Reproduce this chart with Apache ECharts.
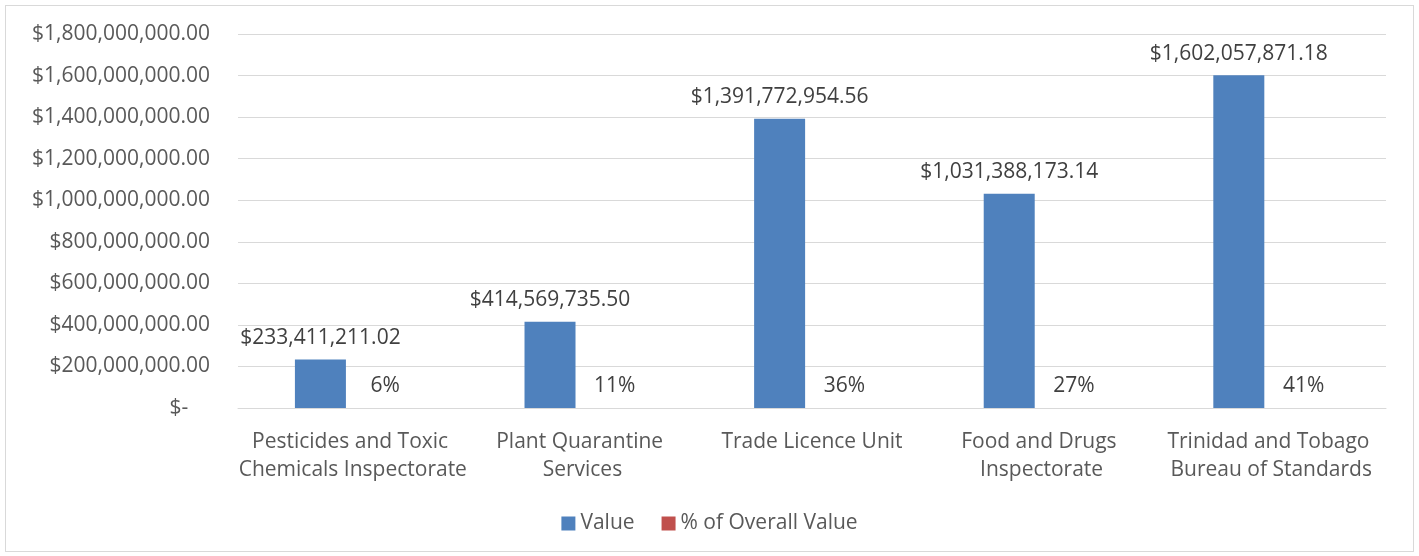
<!DOCTYPE html>
<html>
<head>
<meta charset="utf-8">
<script src="https://cdn.jsdelivr.net/npm/echarts@6/dist/echarts.min.js"></script>
<style>
  html, body { margin: 0; padding: 0; background: #fff; }
  #frame { position: absolute; left: 5px; top: 5px; width: 1407px; height: 545px; border: 1px solid #d9d9d9; }
  #main { position: absolute; left: 0; top: 0; width: 1419px; height: 556px; }
</style>
</head>
<body>
<div id="frame"></div>
<div id="main"></div>
<script>
// data
var categories = [
  'Pesticides and Toxic Chemicals Inspectorate',
  'Plant Quarantine Services',
  'Trade Licence Unit',
  'Food and Drugs Inspectorate',
  'Trinidad and Tobago Bureau of Standards'
];
var values = [233411211.02, 414569735.50, 1391772954.56, 1031388173.14, 1602057871.18];
var shares = [0.06, 0.11, 0.36, 0.27, 0.41];

var fontFam = '"Open Sans", "Liberation Sans", sans-serif';
var textColor = '#595959';
var fs = 21;

function money(v) {
  if (v === 0) return '$-    ';
  return '$' + v.toLocaleString('en-US', {minimumFractionDigits: 2, maximumFractionDigits: 2});
}

var myChart = echarts.init(document.getElementById('main'));

myChart.setOption({
  animation: false,
  textStyle: { fontFamily: fontFam },
  grid: { left: 238, right: 33, top: 34, bottom: 148 },
  legend: {
    bottom: 17,
    left: 'center',
    icon: 'rect',
    itemWidth: 14,
    itemHeight: 14,
    itemGap: 27,
    textStyle: { color: textColor, fontSize: fs, fontFamily: fontFam },
    data: ['Value', '% of Overall Value']
  },
  xAxis: {
    type: 'category',
    data: categories,
    axisTick: { show: false },
    axisLine: { lineStyle: { color: '#d9d9d9' } },
    axisLabel: {
      color: textColor,
      fontSize: fs,
      fontFamily: fontFam,
      margin: 20,
      interval: 0,
      width: 238,
      overflow: 'break',
      lineHeight: 28
    }
  },
  yAxis: {
    type: 'value',
    min: 0,
    max: 1800000000,
    interval: 200000000,
    axisLine: { show: false },
    axisTick: { show: false },
    splitLine: { lineStyle: { color: '#d9d9d9' } },
    axisLabel: {
      color: textColor,
      fontSize: fs,
      fontFamily: fontFam,
      margin: 28,
      formatter: money
    }
  },
  series: [
    {
      name: 'Value',
      type: 'bar',
      data: values,
      barWidth: 51,
      barGap: '27%',
      itemStyle: { color: '#4f81bd' },
      label: {
        show: true,
        position: 'top',
        distance: 11,
        color: '#404040',
        fontSize: fs,
        fontFamily: fontFam,
        formatter: function (p) { return money(p.value); }
      }
    },
    {
      name: '% of Overall Value',
      type: 'bar',
      data: shares,
      barWidth: 51,
      itemStyle: { color: '#c0504d' },
      label: {
        show: true,
        position: 'top',
        distance: 11,
        color: '#404040',
        fontSize: fs,
        fontFamily: fontFam,
        formatter: function (p) { return Math.round(p.value * 100) + '%'; }
      }
    }
  ]
});
</script>
</body>
</html>
